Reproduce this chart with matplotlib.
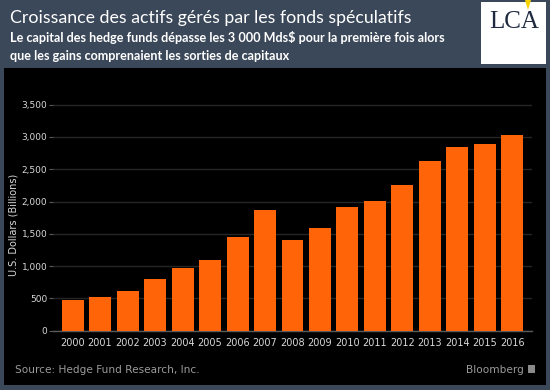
import matplotlib
matplotlib.use("Agg")
import matplotlib.pyplot as plt
from matplotlib.patches import Rectangle, Polygon

years = ["2000", "2001", "2002", "2003", "2004", "2005", "2006", "2007", "2008",
         "2009", "2010", "2011", "2012", "2013", "2014", "2015", "2016"]
assets = [475, 521, 610, 805, 966, 1090, 1450, 1864, 1399,
          1594, 1915, 2003, 2251, 2622, 2844, 2895, 3030]
yticks = [0, 500, 1000, 1500, 2000, 2500, 3000, 3500]
ytick_labels = ["0", "500", "1,000", "1,500", "2,000", "2,500", "3,000", "3,500"]

title = "Croissance des actifs gérés par les fonds spéculatifs"
subtitle1 = "Le capital des hedge funds dépasse les 3 000 Mds$ pour la première fois alors"
subtitle2 = "que les gains comprenaient les sorties de capitaux"
ylabel = "U.S. Dollars (Billions)"
source = "Source: Hedge Fund Research, Inc."

W, H = 550, 390
SLATE = "#3b4859"
ORANGE = "#ff6508"

fig = plt.figure(figsize=(W / 100, H / 100), dpi=100, facecolor=SLATE)

def fx(px):
    return px / W

def fy(py):
    return 1 - py / H

# black panel
fig.patches.append(Rectangle((fx(4), fy(385)), fx(542), (385 - 68) / H,
                             transform=fig.transFigure, facecolor="black",
                             edgecolor="none", zorder=-5))

# logo
fig.patches.append(Rectangle((fx(481), fy(64)), fx(65), 62 / H,
                             transform=fig.transFigure, facecolor="white",
                             edgecolor="none", zorder=1))
fig.patches.append(Polygon([(fx(525), fy(0)), (fx(531), fy(0)), (fx(528), fy(10))],
                           closed=True, transform=fig.transFigure,
                           facecolor="#f5d400", edgecolor="none", zorder=2))
fig.text(fx(514), fy(28), "LCA", ha="center", va="baseline", fontsize=18,
         family="Liberation Serif", color="#1f2a40", zorder=3)

# header texts
fig.text(fx(10), fy(23.5), title, ha="left", va="baseline", fontsize=12.8,
         family="Lato", color="white")
fig.text(fx(10), fy(42), subtitle1, ha="left", va="baseline", fontsize=9.1,
         family="Lato", weight="bold", color="white")
fig.text(fx(10), fy(60), subtitle2, ha="left", va="baseline", fontsize=9.1,
         family="Lato", weight="bold", color="white")

# axes
ax_left, ax_right = 53, 532
y0_px, ytop_px = 330.7, 98.2
ax = fig.add_axes([fx(ax_left), fy(y0_px), (ax_right - ax_left) / W, (y0_px - ytop_px) / H])
ax.set_zorder(5)
ax.set_facecolor("none")
x = list(range(len(years)))
ax.bar(x, assets, width=0.8, color=ORANGE, zorder=3)
ax.set_xlim(-0.71, len(years) - 1 + 0.71)
ax.set_ylim(0, 3600)
ax.set_xticks(x)
ax.set_xticklabels(years)
ax.set_yticks(yticks)
ax.set_yticklabels(ytick_labels)
for s in ["top", "right", "left"]:
    ax.spines[s].set_visible(False)
ax.spines["bottom"].set_color("#5a5a5a")
ax.spines["bottom"].set_linewidth(1)
ax.grid(axis="y", color="#262626", linewidth=1, zorder=0)
ax.tick_params(axis="x", length=0, pad=5, labelsize=7, labelcolor="#d8d8d8")
ax.tick_params(axis="y", length=3, width=0.8, color="#5a5a5a", pad=1,
               labelsize=6.5, labelcolor="#d8d8d8")
for lab in ax.get_xticklabels() + ax.get_yticklabels():
    lab.set_family("DejaVu Sans")

fig.text(fx(14), fy(225), ylabel, rotation=90, ha="center", va="center",
         fontsize=7, color="#d8d8d8", family="DejaVu Sans")

fig.text(fx(15), fy(373), source, ha="left", va="baseline", fontsize=7.6,
         color="#9a9a9a", family="DejaVu Sans")
fig.text(fx(524), fy(373), "Bloomberg", ha="right", va="baseline", fontsize=7.6,
         color="#9a9a9a", family="DejaVu Sans")
fig.patches.append(Rectangle((fx(528), fy(373)), fx(7), 8 / H,
                             transform=fig.transFigure, facecolor="#8a8a8a",
                             edgecolor="none", zorder=2))

fig.savefig("out.png", dpi=100, facecolor=SLATE)
